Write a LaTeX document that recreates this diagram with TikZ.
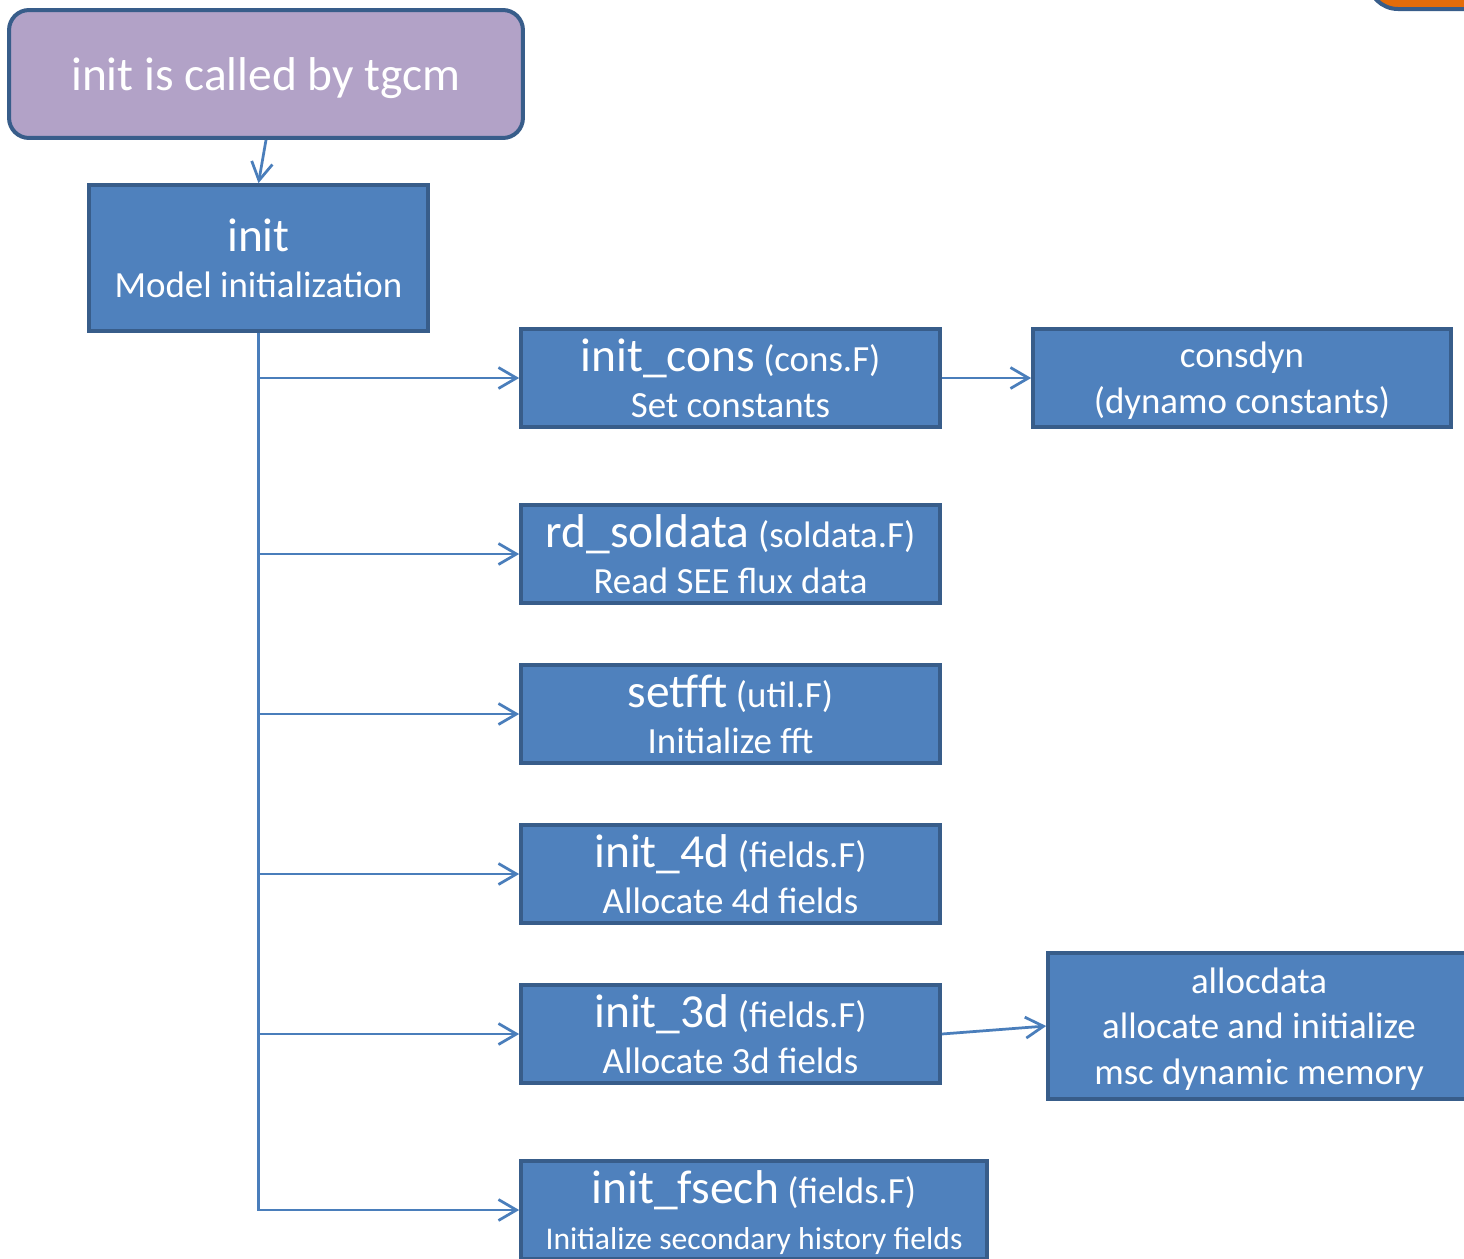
\documentclass[tikz,border=0pt]{standalone}
\usepackage{fontspec}
\setmainfont{Carlito}
\usetikzlibrary{arrows.meta}
\definecolor{boxblue}{HTML}{4F81BD}
\definecolor{edgeblue}{HTML}{385D8A}
\definecolor{lineblue}{HTML}{4A7EBB}
\definecolor{lilac}{HTML}{B2A2C7}
\definecolor{tangerine}{HTML}{E46C0A}
\def\callname#1{{\fontsize{27}{26}\selectfont #1}}

\begin{document}
\begin{tikzpicture}[x=0.02cm, y=-0.02cm,
	routine/.style={draw=edgeblue, fill=boxblue, line width=0.075cm, text=white, align=center, text depth=0pt,
		inner sep=0pt, minimum width=8.38cm, minimum height=1.96cm, font=\fontsize{21}{26}\selectfont},
	link/.style={draw=lineblue, line width=0.055cm,
		-{Straight Barb[length=0.36cm, width=0.42cm, line width=0.055cm]}}]
		%%%%% START %%%%%
		\useasboundingbox (0, 0) rectangle (1464, 1258);
		
		% corner of the next shape, cut off by the page
		\draw[fill=tangerine, draw=edgeblue, line width=0.08cm, rounded corners=0.6cm] (1368, -80) rectangle (1560, 9);
		
		\node[routine, fill=lilac, line width=0.08cm, rounded corners=0.4cm, minimum width=10.28cm, minimum height=2.56cm,
			font=\fontsize{27}{32}\selectfont] (tgcm) at (266, 74) {init is called by tgcm};
		\node[routine, minimum width=6.78cm, minimum height=2.92cm] (init) at (258.5, 258) {\callname{init}\\Model initialization};
		
		\node[routine] (cons) at (730.5, 378) {\callname{init\_cons} (cons.F)\\Set constants};
		\node[routine, minimum width=8.36cm] (consdyn) at (1242, 378) {consdyn\\(dynamo constants)};
		\node[routine] (sol) at (730.5, 554) {\callname{rd\_soldata} (soldata.F)\\Read SEE flux data};
		\node[routine] (fft) at (730.5, 714) {\callname{setfft} (util.F)\\Initialize fft};
		\node[routine] (d4) at (730.5, 874) {\callname{init\_4d} (fields.F)\\Allocate 4d fields};
		\node[routine] (d3) at (730.5, 1034) {\callname{init\_3d} (fields.F)\\Allocate 3d fields};
		\node[routine, minimum width=8.44cm, minimum height=2.92cm] (alloc) at (1259, 1026)
			{allocdata\\allocate and initialize\\msc dynamic memory};
		\node[routine, minimum width=9.32cm] (fsech) at (754, 1210)
			{\callname{init\_fsech} (fields.F)\\{\fontsize{18}{22}\selectfont Initialize secondary history fields}};
		
		\draw[link] (tgcm.south) -- (init.north);
		\foreach \sub in {cons, sol, fft, d4, d3, fsech}
			\draw[link] (init.south) |- (\sub.west);
		\draw[link] (cons.east) -- (consdyn.west);
		\draw[link] (d3.east) -- (alloc.west);
		%%%%% END %%%%%
\end{tikzpicture}
\end{document}
